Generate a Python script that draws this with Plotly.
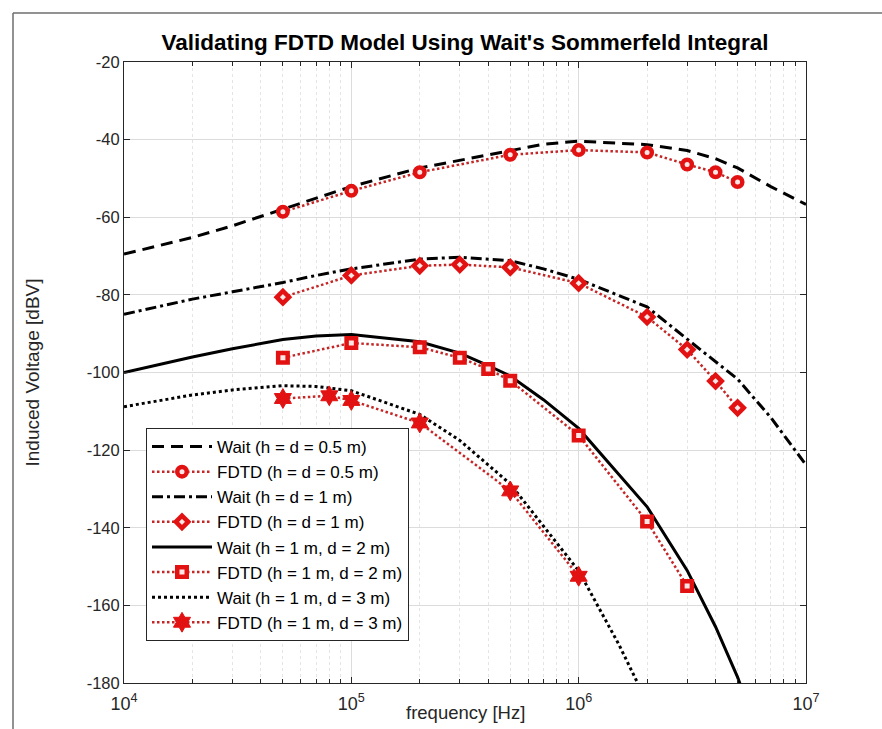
import plotly.graph_objects as go

# ---- Wait's Sommerfeld-integral reference curves ----
f_wait_a = [1e4, 2e4, 3e4, 5e4, 7e4, 1e5, 2e5, 3e5, 5e5, 7e5, 1e6, 2e6, 3e6, 4e6, 5e6, 7e6, 1e7]
v_wait_a = [-69.5, -65.2, -62.2, -58.0, -55.1, -52.1, -47.3, -45.3, -42.8, -41.2, -40.4,
            -41.3, -42.8, -44.9, -47.3, -52.1, -56.7]

f_wait_b = [1e4, 2e4, 3e4, 5e4, 7e4, 1e5, 2e5, 3e5, 5e5, 7e5, 1e6, 2e6, 3e6, 4e6, 5e6, 7e6, 1e7]
v_wait_b = [-85.0, -81.1, -79.2, -76.8, -75.0, -73.3, -70.8, -70.3, -71.2, -73.3, -76.0,
            -83.1, -91.4, -97.2, -101.7, -111.6, -123.8]

f_wait_c = [1e4, 2e4, 3e4, 5e4, 7e4, 1e5, 2e5, 3e5, 4e5, 5e5, 7e5, 1e6, 2e6, 3e6, 4e6, 5e6, 6e6]
v_wait_c = [-100.0, -96.0, -93.9, -91.5, -90.6, -90.2, -92.1, -95.0, -98.2, -100.9, -107.0,
            -114.4, -134.6, -151.0, -165.5, -178.5, -191.0]

f_wait_d = [1e4, 2e4, 3e4, 5e4, 7e4, 1e5, 2e5, 3e5, 5e5, 7e5, 1e6, 1.5e6, 2e6]
v_wait_d = [-108.8, -105.8, -104.5, -103.4, -103.6, -104.7, -110.8, -117.5, -128.7, -139.5,
            -151.1, -170.0, -185.0]

# ---- FDTD simulation results ----
f_fdtd_a = [5e4, 1e5, 2e5, 5e5, 1e6, 2e6, 3e6, 4e6, 5e6]
v_fdtd_a = [-58.6, -53.2, -48.4, -43.9, -42.7, -43.3, -46.4, -48.4, -50.9]

f_fdtd_b = [5e4, 1e5, 2e5, 3e5, 5e5, 1e6, 2e6, 3e6, 4e6, 5e6]
v_fdtd_b = [-80.6, -75.0, -72.5, -72.2, -72.9, -77.0, -85.7, -94.1, -102.2, -109.1]

f_fdtd_c = [5e4, 1e5, 2e5, 3e5, 4e5, 5e5, 1e6, 2e6, 3e6]
v_fdtd_c = [-96.2, -92.4, -93.5, -96.2, -99.1, -102.1, -116.2, -138.4, -155.0]

f_fdtd_d = [5e4, 8e4, 1e5, 2e5, 5e5, 1e6]
v_fdtd_d = [-106.7, -106.0, -107.2, -113.0, -130.5, -152.5]

names = [
    "Wait (h = d = 0.5 m)", "FDTD (h = d = 0.5 m)",
    "Wait (h = d = 1 m)", "FDTD (h = d = 1 m)",
    "Wait (h = 1 m, d = 2 m)", "FDTD (h = 1 m, d = 2 m)",
    "Wait (h = 1 m, d = 3 m)", "FDTD (h = 1 m, d = 3 m)",
]
x_ticks = [1e4, 1e5, 1e6, 1e7]
x_tick_text = ["10<sup>4</sup>", "10<sup>5</sup>", "10<sup>6</sup>", "10<sup>7</sup>"]
y_ticks = [-180, -160, -140, -120, -100, -80, -60, -40, -20]
y_tick_text = ["-180", "-160", "-140", "-120", "-100", "-80", "-60", "-40", "-20"]

FONT = "Liberation Sans, Arial, sans-serif"
BLACK = "#000000"
RED = "#e21212"
RED_LINE = "#c42626"
AX = "#262626"

fig = go.Figure()

wait_sets = [(f_wait_a, v_wait_a, "12px,7px"),
             (f_wait_b, v_wait_b, "11px,4px,3px,4px"),
             (f_wait_c, v_wait_c, "solid"),
             (f_wait_d, v_wait_d, "3px,3px")]
fdtd_sets = [(f_fdtd_a, v_fdtd_a, "circle", 9.5, 4.5, "#ffe6e6"),
             (f_fdtd_b, v_fdtd_b, "diamond", 9.5, 4.5, "#ffe6e6"),
             (f_fdtd_c, v_fdtd_c, "square", 9.5, 4.5, "#ffe6e6"),
             (f_fdtd_d, v_fdtd_d, "hexagram", 15, 1, RED)]

for i in range(4):
    fw, vw, dash = wait_sets[i]
    fig.add_trace(go.Scatter(
        x=fw, y=vw, mode="lines", name=names[2 * i],
        line=dict(color=BLACK, width=3, dash=dash),
    ))
    ff, vf, sym, size, lw, fill = fdtd_sets[i]
    fig.add_trace(go.Scatter(
        x=ff, y=vf, mode="lines+markers", name=names[2 * i + 1],
        line=dict(color=RED_LINE, width=2.5, dash="2.5px,2.5px"),
        marker=dict(symbol=sym, size=size, color=fill, line=dict(color=RED, width=lw)),
    ))

minor_vals = [m * 10 ** e for e in range(4, 7) for m in range(2, 10)]

fig.update_xaxes(
    type="log", range=[4, 7],
    tickmode="array", tickvals=x_ticks, ticktext=x_tick_text,
    ticks="inside", ticklen=6, tickcolor=AX, tickwidth=1, ticklabelstandoff=4,
    showline=True, linecolor=AX, linewidth=1, mirror="ticks",
    showgrid=True, gridcolor="#dcdcdc", gridwidth=1,
    minor=dict(tickvals=minor_vals, ticks="inside", ticklen=4, tickcolor=AX,
               showgrid=True, gridcolor="#e4e4e4", griddash="dot", gridwidth=1),
    tickfont=dict(family=FONT, size=18, color=AX),
    zeroline=False,
)
fig.update_yaxes(
    range=[-180, -20], tickmode="array", tickvals=y_ticks, ticktext=y_tick_text,
    ticks="inside", ticklen=6, tickcolor=AX, tickwidth=1,
    showline=True, linecolor=AX, linewidth=1, mirror="ticks",
    showgrid=True, gridcolor="#dcdcdc", gridwidth=1,
    tickfont=dict(family=FONT, size=16.5, color=AX),
    zeroline=False,
)

L, R, T, B = 124, 76, 62, 46
W, H = 882, 729
pw, ph = W - L - R, H - T - B


def px_x(px):
    return (px - L) / pw


def px_y(py):
    return (H - B - py) / ph


# axis titles
fig.add_annotation(text="frequency [Hz]", xref="paper", yref="paper",
                   x=0.5, y=px_y(712), xanchor="center", yanchor="middle",
                   showarrow=False, font=dict(family=FONT, size=18.5, color=AX))
fig.add_annotation(text="Induced Voltage [dBV]", xref="paper", yref="paper",
                   x=px_x(32), y=0.5, xanchor="center", yanchor="middle", textangle=-90,
                   showarrow=False, font=dict(family=FONT, size=19, color=AX))

# figure-window frame on the top and left edges
frame = dict(color="#6e6e6e", width=1.5)
fig.add_shape(type="line", xref="paper", yref="paper",
              x0=px_x(13), x1=px_x(W + 5), y0=px_y(13), y1=px_y(13), line=frame)
fig.add_shape(type="line", xref="paper", yref="paper",
              x0=px_x(13), x1=px_x(13), y0=px_y(13), y1=px_y(H + 5), line=frame)

fig.update_layout(
    width=W, height=H,
    margin=dict(l=L, r=R, t=T, b=B, autoexpand=False),
    paper_bgcolor="white", plot_bgcolor="white",
    title=dict(text="<b>Validating FDTD Model Using Wait's Sommerfeld Integral</b>",
               x=0.5, xref="paper", xanchor="center",
               y=1 - 42 / H, yref="container", yanchor="middle",
               font=dict(family=FONT, size=22.5, color="#000000")),
    legend=dict(x=px_x(146), y=px_y(428), xanchor="left", yanchor="top",
                bgcolor="white", bordercolor=AX, borderwidth=1,
                font=dict(family=FONT, size=17, color="#000000"),
                itemwidth=60, tracegroupgap=0),
    showlegend=True,
)

fig.write_html("out.html")
